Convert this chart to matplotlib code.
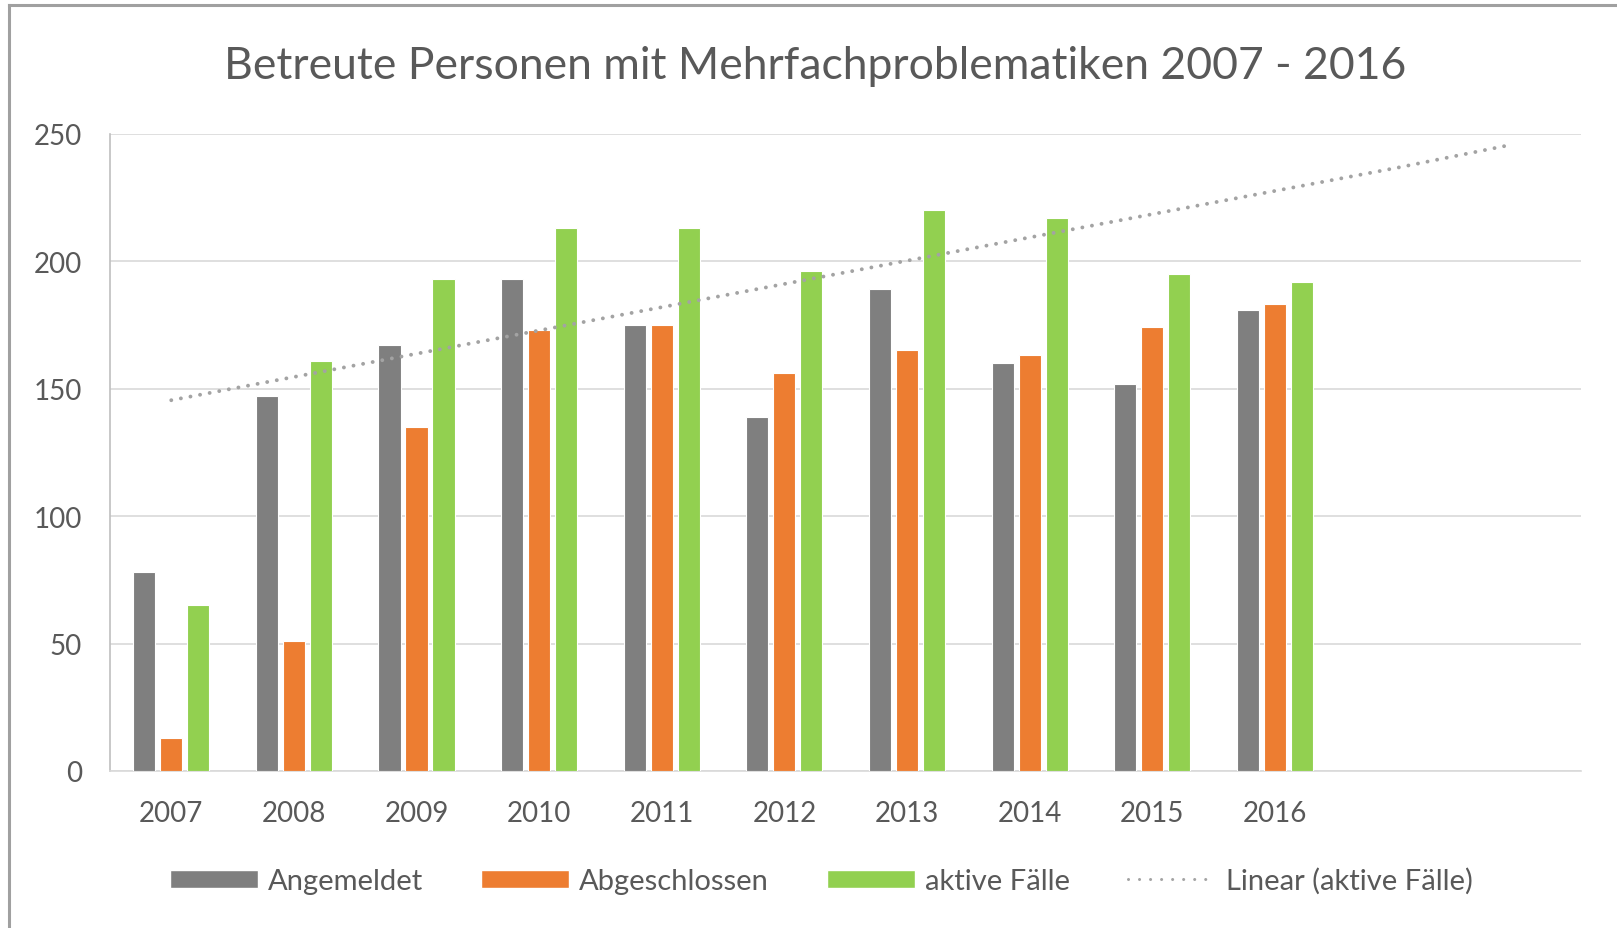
import matplotlib
matplotlib.use("Agg")
import matplotlib.pyplot as plt
import numpy as np
from matplotlib.lines import Line2D
from matplotlib.patches import Patch

# data
years = ["2007", "2008", "2009", "2010", "2011", "2012", "2013", "2014", "2015", "2016"]
angemeldet = [78, 147, 167, 193, 175, 139, 189, 160, 152, 181]
abgeschlossen = [13, 51, 135, 173, 175, 156, 165, 163, 174, 183]
aktive = [65, 161, 193, 213, 213, 196, 220, 217, 195, 192]
forward_periods = 2  # trendline goes 2 periods past 2016

c_gray = "#7F7F7F"
c_orange = "#ED7D31"
c_green = "#92D050"
c_trend = "#A3A3A3"
c_text = "#595959"

plt.rcParams["font.family"] = ["Lato", "DejaVu Sans"]

fig = plt.figure(figsize=(16.17, 9.29), dpi=100)
ax = fig.add_axes([0.068, 0.169, 0.910, 0.686])

x = np.arange(len(years))
w = 0.18
off = 0.22
ax.bar(x - off, angemeldet, w, color=c_gray, edgecolor="white", linewidth=0.8, zorder=3)
ax.bar(x, abgeschlossen, w, color=c_orange, edgecolor="white", linewidth=0.8, zorder=3)
ax.bar(x + off, aktive, w, color=c_green, edgecolor="white", linewidth=0.8, zorder=3)

# linear trendline of aktive Fälle (like Excel), extended forward
k, d = np.polyfit(x + 1, aktive, 1)
xt = np.arange(len(years) + forward_periods)
ax.plot(xt - np.r_[np.zeros(len(xt) - 1), 0.06], k * (xt + 1) + d, color=c_trend,
        linewidth=2.8, linestyle=(0, (0.01, 2.5)), dash_capstyle="round", zorder=4)

ax.set_xlim(-0.5, len(years) + forward_periods - 0.5)
ax.set_ylim(0, 250)
ax.set_yticks([0, 50, 100, 150, 200, 250])
ax.set_xticks(x)
ax.set_xticklabels(years)
ax.grid(axis="y", color="#D9D9D9", linewidth=1.2, zorder=0)
ax.tick_params(axis="both", length=0, labelsize=20, labelcolor=c_text)
ax.tick_params(axis="x", pad=21)
ax.tick_params(axis="y", pad=20)
for s in ["top", "right"]:
    ax.spines[s].set_visible(False)
ax.spines["bottom"].set_color("#D9D9D9")
ax.spines["bottom"].set_linewidth(1.2)
ax.spines["left"].set_color("#BFBFBF")
ax.spines["left"].set_linewidth(1.2)

fig.text(0.504, 0.928, "Betreute Personen mit Mehrfachproblematiken 2007 - 2016",
         ha="center", va="center", fontsize=32, color=c_text)

handles = [
    Patch(facecolor=c_gray, edgecolor="white"),
    Patch(facecolor=c_orange, edgecolor="white"),
    Patch(facecolor=c_green, edgecolor="white"),
    Line2D([0], [0], color=c_trend, linewidth=2.2, linestyle=(0, (0.01, 3.6)), dash_capstyle="round"),
]
labels = ["Angemeldet", "Abgeschlossen", "aktive Fälle", "Linear (aktive Fälle)"]
fig.legend(handles, labels, loc="center", bbox_to_anchor=(0.508, 0.051), ncol=4,
           frameon=False, fontsize=21, labelcolor=c_text, handlelength=3.0,
           handleheight=0.6, handletextpad=0.35, columnspacing=2.0)

# chart border (left and top edges visible in the crop)
fig.add_artist(Line2D([0.0055, 0.0055], [0, 0.994], transform=fig.transFigure, color="#A0A0A0", linewidth=2.2))
fig.add_artist(Line2D([0.0055, 1.0], [0.994, 0.994], transform=fig.transFigure, color="#A0A0A0", linewidth=2.2))

fig.savefig("out.png", dpi=100)
